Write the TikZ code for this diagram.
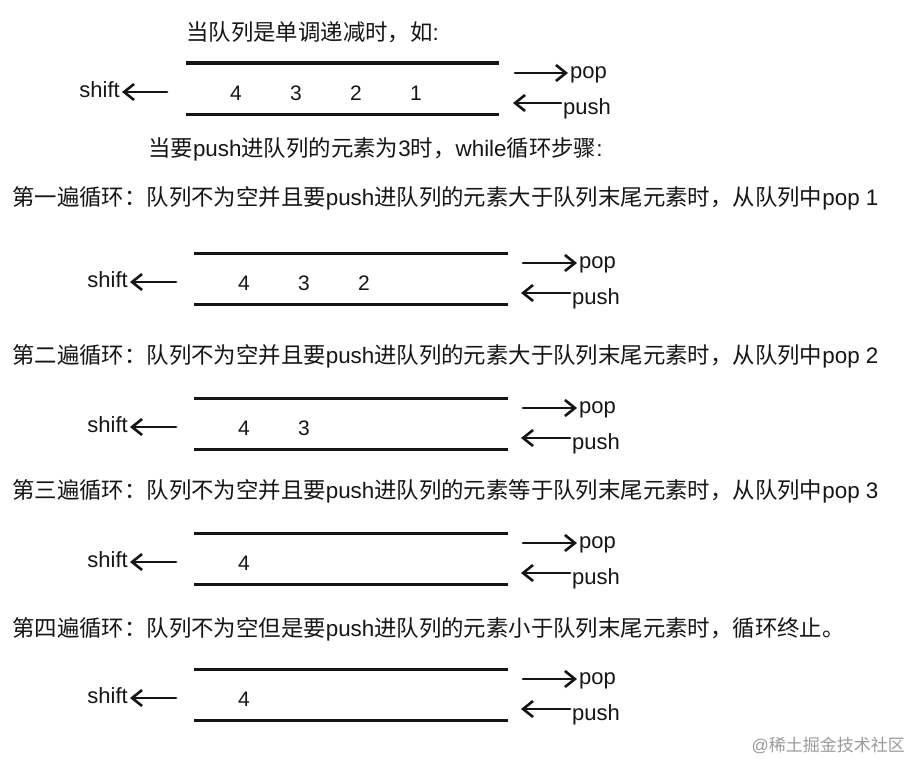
\documentclass[tikz,border=0pt]{standalone}
\usepackage{fontspec}
\setmainfont{Liberation Sans}
\newfontfamily\cjk{Noto Sans CJK SC}
\usetikzlibrary{arrows.meta}
\definecolor{inkgray}{HTML}{151515}
\definecolor{markgray}{HTML}{9a9a9a}

\begin{document}
\begin{tikzpicture}[x=1pt,y=-1pt,color=inkgray]
	\tikzstyle{heading}=[anchor=base west,inner sep=0,font=\fontsize{22.4}{26}\selectfont]
	\tikzstyle{opname}=[inner xsep=2pt,inner ysep=0,font=\fontsize{22}{26}\selectfont]
	\tikzstyle{elem}=[anchor=base,inner sep=0,font=\fontsize{21}{24}\selectfont]
	\tikzstyle{queueline}=[line width=3pt]
	\tikzstyle{flow}=[line width=2.8pt,line cap=round,-{Straight Barb[length=10pt,width=16pt,line width=2.6pt]}]

	\useasboundingbox (0,0) rectangle (912,760);

	% queue before the loop
	\node[heading](title_decreasing) at (186,40.5){{\cjk 当队列是单调递减时，如}:};
	\draw[queueline] (186,63) -- (499,63);
	\draw[queueline] (186,114) -- (499,114);
	\node[elem](q0_e4) at (236,100){4};
	\node[elem](q0_e3) at (296,100){3};
	\node[elem](q0_e2) at (356,100){2};
	\node[elem](q0_e1) at (416,100){1};
	\node[opname,anchor=base east](q0_shift) at (122,97){shift};
	\coordinate (q0_shift_from) at (167,92);
	\node[opname,anchor=base west](q0_pop) at (568,78){pop};
	\coordinate (q0_pop_from) at (515,73);
	\node[opname,anchor=base west](q0_push) at (561,114){push};
	\coordinate (q0_push_to) at (513,103);

	\draw[flow](q0_shift_from) -- (q0_shift_from -| q0_shift.east);
	\draw[flow](q0_pop_from) -- (q0_pop_from -| q0_pop.west);
	\draw[flow](q0_push_to -| q0_push.west) -- (q0_push_to);

	\node[heading](title_steps) at (148,156.5){{\cjk 当要}push{\cjk 进队列的元素为}3{\cjk 时，}while{\cjk 循环步骤}:};

	% first pass
	\node[heading](loop_one) at (12,205.5){{\cjk 第一遍循环：队列不为空并且要}push{\cjk 进队列的元素大于队列末尾元素时，从队列中}pop 1};
	\draw[queueline] (194,253) -- (508,253);
	\draw[queueline] (194,304) -- (508,304);
	\node[elem](q1_e4) at (244,290){4};
	\node[elem](q1_e3) at (304,290){3};
	\node[elem](q1_e2) at (364,290){2};
	\node[opname,anchor=base east](q1_shift) at (130,287){shift};
	\coordinate (q1_shift_from) at (176,282);
	\node[opname,anchor=base west](q1_pop) at (577,268){pop};
	\coordinate (q1_pop_from) at (523,263);
	\node[opname,anchor=base west](q1_push) at (570,304){push};
	\coordinate (q1_push_to) at (521,293);

	\draw[flow](q1_shift_from) -- (q1_shift_from -| q1_shift.east);
	\draw[flow](q1_pop_from) -- (q1_pop_from -| q1_pop.west);
	\draw[flow](q1_push_to -| q1_push.west) -- (q1_push_to);

	% second pass
	\node[heading](loop_two) at (12,363.5){{\cjk 第二遍循环：队列不为空并且要}push{\cjk 进队列的元素大于队列末尾元素时，从队列中}pop 2};
	\draw[queueline] (194,398) -- (508,398);
	\draw[queueline] (194,449) -- (508,449);
	\node[elem](q2_e4) at (244,435){4};
	\node[elem](q2_e3) at (304,435){3};
	\node[opname,anchor=base east](q2_shift) at (130,432){shift};
	\coordinate (q2_shift_from) at (176,427);
	\node[opname,anchor=base west](q2_pop) at (577,413){pop};
	\coordinate (q2_pop_from) at (523,408);
	\node[opname,anchor=base west](q2_push) at (570,449){push};
	\coordinate (q2_push_to) at (521,438);

	\draw[flow](q2_shift_from) -- (q2_shift_from -| q2_shift.east);
	\draw[flow](q2_pop_from) -- (q2_pop_from -| q2_pop.west);
	\draw[flow](q2_push_to -| q2_push.west) -- (q2_push_to);

	% third pass
	\node[heading](loop_three) at (12,498.5){{\cjk 第三遍循环：队列不为空并且要}push{\cjk 进队列的元素等于队列末尾元素时，从队列中}pop 3};
	\draw[queueline] (194,533) -- (508,533);
	\draw[queueline] (194,584) -- (508,584);
	\node[elem](q3_e4) at (244,570){4};
	\node[opname,anchor=base east](q3_shift) at (130,567){shift};
	\coordinate (q3_shift_from) at (176,562);
	\node[opname,anchor=base west](q3_pop) at (577,548){pop};
	\coordinate (q3_pop_from) at (523,543);
	\node[opname,anchor=base west](q3_push) at (570,584){push};
	\coordinate (q3_push_to) at (521,573);

	\draw[flow](q3_shift_from) -- (q3_shift_from -| q3_shift.east);
	\draw[flow](q3_pop_from) -- (q3_pop_from -| q3_pop.west);
	\draw[flow](q3_push_to -| q3_push.west) -- (q3_push_to);

	% fourth pass
	\node[heading](loop_four) at (12,636.5){{\cjk 第四遍循环：队列不为空但是要}push{\cjk 进队列的元素小于队列末尾元素时，循环终止。}};
	\draw[queueline] (194,669) -- (508,669);
	\draw[queueline] (194,720) -- (508,720);
	\node[elem](q4_e4) at (244,706){4};
	\node[opname,anchor=base east](q4_shift) at (130,703){shift};
	\coordinate (q4_shift_from) at (176,698);
	\node[opname,anchor=base west](q4_pop) at (577,684){pop};
	\coordinate (q4_pop_from) at (523,679);
	\node[opname,anchor=base west](q4_push) at (570,720){push};
	\coordinate (q4_push_to) at (521,709);

	\draw[flow](q4_shift_from) -- (q4_shift_from -| q4_shift.east);
	\draw[flow](q4_pop_from) -- (q4_pop_from -| q4_pop.west);
	\draw[flow](q4_push_to -| q4_push.west) -- (q4_push_to);

	\node[anchor=base east,inner sep=0,color=markgray,font=\fontsize{17}{20}\selectfont](watermark) at (905,751){@{\cjk 稀土掘金技术社区}};
\end{tikzpicture}
\end{document}
